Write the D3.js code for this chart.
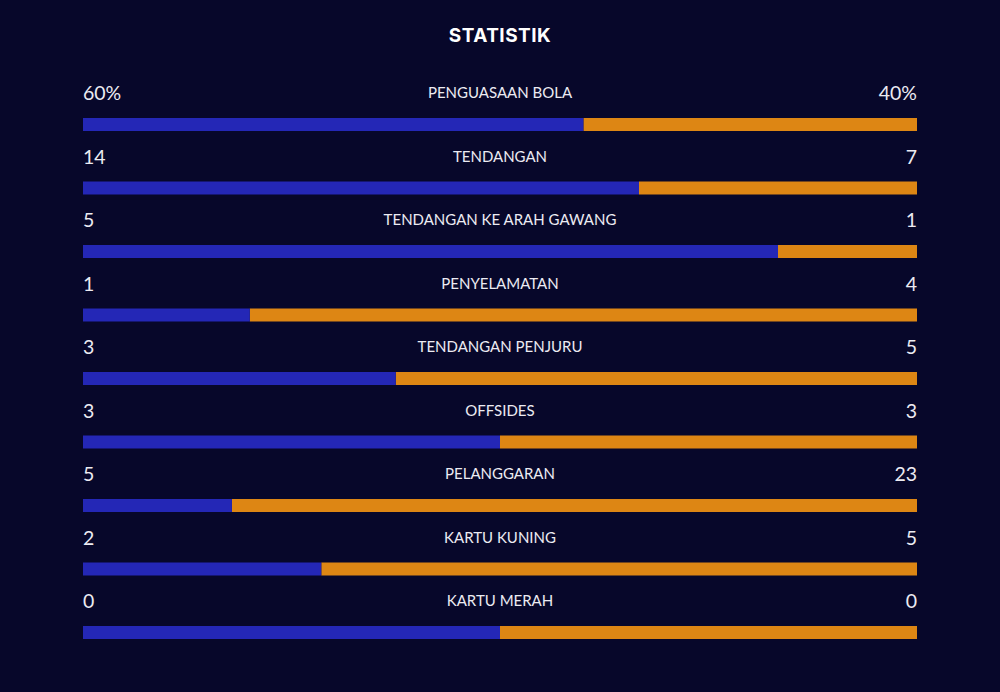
<!DOCTYPE html>
<html>
<head>
<meta charset="utf-8">
<script src="https://cdn.jsdelivr.net/npm/d3@7"></script>
<style>
  html, body { margin: 0; padding: 0; background: #07072a; }
  #vis { width: 1000px; height: 692px; }
</style>
</head>
<body>
<div id="vis"></div>
<script>
// Match statistics (home = blue, away = orange)
var labels = ["PENGUASAAN BOLA", "TENDANGAN", "TENDANGAN KE ARAH GAWANG", "PENYELAMATAN",
              "TENDANGAN PENJURU", "OFFSIDES", "PELANGGARAN", "KARTU KUNING", "KARTU MERAH"];
var homeValues = [60, 14, 5, 1, 3, 3, 5, 2, 0];
var awayValues = [40, 7, 1, 4, 5, 3, 23, 5, 0];
var units = ["%", "", "", "", "", "", "", "", ""];

(function() {
    var width = 1000,
        height = 692,
        margin = { top: 118, left: 83, right: 83 };

    var svg = d3.select("#vis").append("svg")
        .attr("width", width)
        .attr("height", height);

    svg.append("rect")
        .attr("width", width)
        .attr("height", height)
        .attr("fill", "#07072a");

    var x = d3.scaleLinear()
        .domain([0, 1])
        .range([margin.left, width - margin.right]);

    var y = d3.scaleLinear()
        .domain([0, labels.length - 1])
        .range([margin.top, 626]);

    var barH = 13;

    var rows = labels.map(function(d, i) {
        var total = homeValues[i] + awayValues[i];
        return {
            label: d,
            home: homeValues[i],
            away: awayValues[i],
            unit: units[i],
            share: total ? homeValues[i] / total : 0.5
        };
    });

    // Title
    svg.append("text")
        .attr("x", width / 2)
        .attr("y", 42)
        .attr("text-anchor", "middle")
        .attr("fill", "#ffffff")
        .style("font-family", "Inter, 'Open Sans', sans-serif")
        .style("font-weight", 700)
        .style("font-size", "19px")
        .style("letter-spacing", "0.5px")
        .text("STATISTIK");

    var row = svg.selectAll("g.row")
        .data(rows)
        .enter().append("g")
        .attr("class", "row")
        .attr("transform", function(d, i) { return "translate(0," + y(i) + ")"; });

    // away (orange) on the right, home (blue) on the left
    row.append("rect")
        .attr("x", function(d) { return x(d.share); })
        .attr("y", 0)
        .attr("width", function(d) { return x(1) - x(d.share); })
        .attr("height", barH)
        .attr("fill", "#dd8614");

    row.append("rect")
        .attr("x", x(0))
        .attr("y", 0)
        .attr("width", function(d) { return x(d.share) - x(0); })
        .attr("height", barH)
        .attr("fill", "#2427b6");

    row.append("text")
        .attr("x", x(0))
        .attr("y", -18)
        .attr("fill", "#ecebf2")
        .style("font-family", "Lato, sans-serif")
        .style("font-size", "19.5px")
        .text(function(d) { return d.home + d.unit; });

    row.append("text")
        .attr("x", x(1))
        .attr("y", -18)
        .attr("text-anchor", "end")
        .attr("fill", "#ecebf2")
        .style("font-family", "Lato, sans-serif")
        .style("font-size", "19.5px")
        .text(function(d) { return d.away + d.unit; });

    row.append("text")
        .attr("x", width / 2)
        .attr("y", -20)
        .attr("text-anchor", "middle")
        .attr("fill", "#ecebf2")
        .style("font-family", "Lato, sans-serif")
        .style("font-size", "15px")
        .text(function(d) { return d.label; });
})();
</script>
</body>
</html>
